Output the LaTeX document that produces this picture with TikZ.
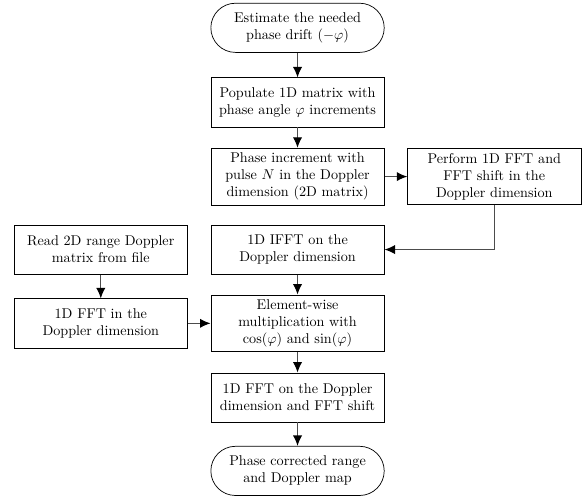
\documentclass[tikz,border=0pt]{standalone}
\usepackage{tikz}
\usetikzlibrary{arrows.meta}
\tikzset{
	procbox/.style={draw, rectangle, align=center, text width=4cm, inner xsep=0.15cm, minimum height=1.22cm, line width=0.5pt},
	termbox/.style={procbox, rounded corners=0.61cm},
	flowarrow/.style={-{Latex[length=2.6mm,width=2.3mm,color=black]}, line width=0.8pt, draw=black!70}
}

\begin{document}
\begin{tikzpicture}
			%%%%% START %%%%%
			\useasboundingbox (0, 0) rectangle (14.56, -12.33);
			
			\node[termbox] (estimate) at (7.38, -0.69) {Estimate the needed\\phase drift $(-\varphi)$};
			\node[procbox] (populate) at (7.38, -2.54) {Populate 1D matrix with\\phase angle $\varphi$ increments};
			\node[procbox] (increment) at (7.38, -4.38) {Phase increment with\\pulse $N$ in the Doppler\\dimension (2D matrix)};
			\node[procbox] (perform) at (12.26, -4.38) {Perform 1D FFT and\\FFT shift in the\\Doppler dimension};
			
			\node[procbox] (ifft) at (7.38, -6.19) {1D IFFT on the\\Doppler dimension};
			\node[procbox] (readfile) at (2.50, -6.19) {Read 2D range Doppler\\matrix from file};
			
			\node[procbox] (fftleft) at (2.50, -8.02) {1D FFT in the\\Doppler dimension};
			\node[procbox] (multiply) at (7.38, -8.02) {Element-wise\\multiplication with\\$\cos(\varphi)$ and $\sin(\varphi)$};
			
			\node[procbox] (fftshift) at (7.38, -9.86) {1D FFT on the Doppler\\dimension and FFT shift};
			\node[termbox] (result) at (7.38, -11.68) {Phase corrected range\\and Doppler map};
			
			\draw[flowarrow] (estimate) -- (populate);
			\draw[flowarrow] (populate) -- (increment);
			\draw[flowarrow] (increment) -- (perform);
			\draw[flowarrow] (perform.south) |- (ifft.east);
			\draw[flowarrow] (ifft) -- (multiply);
			\draw[flowarrow] (readfile) -- (fftleft);
			\draw[flowarrow] (fftleft) -- (multiply);
			\draw[flowarrow] (multiply) -- (fftshift);
			\draw[flowarrow] (fftshift) -- (result);
			%%%%% END %%%%%
		\end{tikzpicture}
\end{document}
